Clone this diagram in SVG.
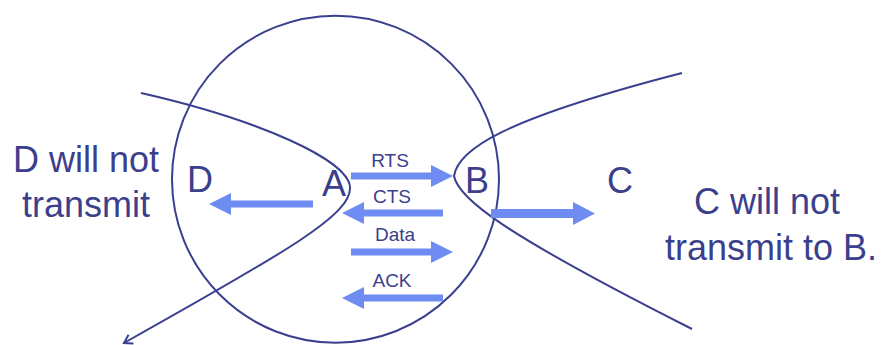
<svg xmlns="http://www.w3.org/2000/svg" width="883" height="345" viewBox="0 0 883 345">
<style>
.ln{fill:none;stroke:#3a3f8f;stroke-width:2}
.ar{fill:#6e8cf2;stroke:none}
.big{font-family:"Liberation Sans",Arial,sans-serif;font-size:36px;fill:#3b3f8c}
.sm{font-family:"Liberation Sans",Arial,sans-serif;font-size:19px;fill:#3b3f8c}
</style>
<defs>
<marker id="openv" markerWidth="12" markerHeight="12" refX="10" refY="6" orient="auto" markerUnits="userSpaceOnUse">
<path d="M2,1 L10,6 L2,11" fill="none" stroke="#3a3f8f" stroke-width="2"/>
</marker>
</defs>
<rect width="883" height="345" fill="#ffffff"/>
<g id="range">
<circle class="ln" cx="335.5" cy="179.2" r="163.5"/>
</g>
<g id="connectors">
<path class="ln" d="M141,93 C260,120 348,160 350,187 C352,214 290,250 124,343" marker-end="url(#openv)"/>
<path class="ln" d="M682,73 C500,120 458,150 454,176 C458,198 500,232 692,329"/>
<path class="ar" d="M351,172.5 H431 V165 L453,176 L431,187 V179.5 H351 Z"/>
<path class="ar" d="M443,209.5 H364 V202 L342,213 L364,224 V216.5 H443 Z"/>
<path class="ar" d="M351,248.5 H431 V241 L453,252 L431,263 V255.5 H351 Z"/>
<path class="ar" d="M443,294.5 H364 V287 L342,298 L364,309 V301.5 H443 Z"/>
<path class="ar" d="M313,200.5 H231 V193 L209,204 L231,215 V207.5 H313 Z"/>
<path class="ar" d="M491,209 H573 V202 L595,213.5 L573,225 V218 H491 Z"/>
</g>
<g id="labels">
<text class="sm" x="390" y="167" text-anchor="middle">RTS</text>
<text class="sm" x="392" y="203" text-anchor="middle">CTS</text>
<text class="sm" x="395" y="241" text-anchor="middle">Data</text>
<text class="sm" x="392" y="287" text-anchor="middle">ACK</text>
</g>
<g id="nodeD"><text class="big" x="200" y="192" text-anchor="middle">D</text></g>
<g id="nodeA"><text class="big" x="334" y="196" text-anchor="middle">A</text></g>
<g id="nodeB"><text class="big" x="477" y="193" text-anchor="middle">B</text></g>
<g id="nodeC"><text class="big" x="620" y="193" text-anchor="middle">C</text></g>
<g id="noteD">
<text class="big" x="86" y="172" text-anchor="middle">D will not</text>
<text class="big" x="86" y="217" text-anchor="middle">transmit</text>
</g>
<g id="noteC">
<text class="big" x="767" y="214" text-anchor="middle">C will not</text>
<text class="big" x="771" y="260" text-anchor="middle">transmit to B.</text>
</g>
</svg>
